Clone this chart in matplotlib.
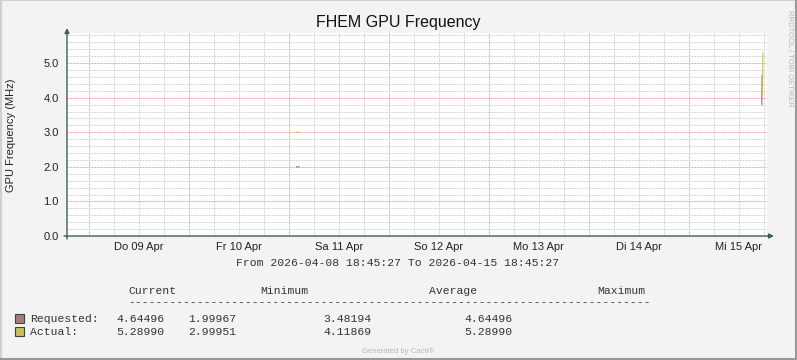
import matplotlib
matplotlib.use('Agg')
import matplotlib.pyplot as plt
from matplotlib.lines import Line2D
from matplotlib.patches import Rectangle
import numpy as np
import pandas as pd

plt.rcParams['font.family'] = ['Liberation Sans', 'DejaVu Sans']

# time window of the graph
start = pd.Timestamp("2026-04-08 18:45:27")
end = pd.Timestamp("2026-04-15 18:45:27")

# series (NaN = unknown / gap)
req_times = pd.to_datetime(["2026-04-11 01:50", "2026-04-11 02:25", "2026-04-12 00:00",
                            "2026-04-15 17:30", "2026-04-15 17:35"])
req_vals = [1.99967, 1.99967, np.nan, 3.80, 4.64496]

act_times = pd.to_datetime(["2026-04-11 01:50", "2026-04-11 02:25", "2026-04-12 00:00",
                            "2026-04-15 17:40", "2026-04-15 17:45"])
act_vals = [2.99951, 2.99951, np.nan, 4.09, 5.28990]

day_labels = ["Do 09 Apr", "Fr 10 Apr", "Sa 11 Apr", "So 12 Apr",
              "Mo 13 Apr", "Di 14 Apr", "Mi 15 Apr"]
y_ticks = [0.0, 1.0, 2.0, 3.0, 4.0, 5.0]

legend_names = ["Requested:", "Actual:"]
legend_current = ["4.64496", "5.28990"]
legend_min = ["1.99967", "2.99951"]
legend_avg = ["3.48194", "4.11869"]
legend_max = ["4.64496", "5.28990"]

req_color = "#B07878"
act_color = "#C8BE5A"
axis_color = "#3E5E54"

W, H = 797, 360
fig = plt.figure(figsize=(W / 100, H / 100), dpi=100, facecolor="#F3F3F3")


def fx(px):
    return px / W


def fy(py):
    return 1 - py / H


ax = fig.add_axes([fx(67), fy(236), fx(767) - fx(67), fy(33) - fy(236)])
ax.set_facecolor("white")
ax.set_xlim(start, end)
ax.set_ylim(0, 5.87)

# grid: gray every 6 h / 0.2, red every day / 1.0
dot = dict(linestyle=(0, (2, 1)), linewidth=0.72, snap=True, zorder=0.5)
grid_gray = "#D5D5D5"
grid_red = "#FFA0A0"
for t in pd.date_range("2026-04-08 18:00", "2026-04-15 18:00", freq="6h"):
    if t <= start:
        continue
    ax.axvline(t, color=grid_red if t.hour == 0 else grid_gray, **dot)
for k in range(1, 30):
    ax.axhline(k * 0.2, color=grid_red if k % 5 == 0 else grid_gray, **dot)

ax.set_yticks(y_ticks)
ax.set_yticklabels([f"{v:.1f}" for v in y_ticks])
ax.set_xticks([])
ax.tick_params(which="both", length=0)
ax.tick_params(axis="y", labelsize=8, colors="#222222", pad=6)
for s in ax.spines.values():
    s.set_visible(False)

# day labels at noon
for i, lab in enumerate(day_labels):
    t = pd.Timestamp("2026-04-09 12:00") + pd.Timedelta(days=i)
    ax.text(t, -0.052, lab, ha="center", va="center", fontsize=8,
            color="#222222", transform=ax.get_xaxis_transform())

ax.plot(req_times, req_vals, color=req_color, linewidth=0.9)
ax.plot(act_times, act_vals, color=act_color, linewidth=0.9, alpha=0.85)

# axes with arrows
ax.annotate("", xy=(fx(774), fy(236)), xytext=(fx(64), fy(236)),
            xycoords="figure fraction",
            arrowprops=dict(arrowstyle="-|>", color=axis_color, lw=1,
                            mutation_scale=7, shrinkA=0, shrinkB=0))
ax.annotate("", xy=(fx(67), fy(28)), xytext=(fx(67), fy(239)),
            xycoords="figure fraction",
            arrowprops=dict(arrowstyle="-|>", color=axis_color, lw=1,
                            mutation_scale=7, shrinkA=0, shrinkB=0))

fig.text(fx(398), fy(22), "FHEM GPU Frequency", ha="center", va="center",
         fontsize=11.5, color="#111111")
fig.text(fx(11), fy(135), "GPU Frequency (MHz)", rotation=90, ha="center",
         va="center", fontsize=8, color="#222222")
fig.text(fx(789), fy(58), "RRDTOOL / TOBI OETIKER", rotation=270, ha="center",
         va="center", fontsize=5.5, color="#B8B8B8")

mono = dict(family="Liberation Mono", fontsize=8.2, color="#333333", va="center")
fig.text(fx(398), fy(263), "From 2026-04-08 18:45:27 To 2026-04-15 18:45:27",
         ha="center", **mono)
for txt, px in [("Current", 128), ("Minimum", 260), ("Average", 429), ("Maximum", 597)]:
    fig.text(fx(px), fy(291), txt, ha="left", **mono)
fig.text(fx(128), fy(302), "-" * 76, ha="left", **mono)

for i, name in enumerate(legend_names):
    py = 319 + i * 13
    color = [req_color, act_color][i]
    fig.patches.append(Rectangle((fx(15), fy(py + 4)), fx(9), fy(0) - fy(9),
                                 transform=fig.transFigure, facecolor=color,
                                 edgecolor="#2F4A44", linewidth=0.8))
    fig.text(fx(30), fy(py), name, ha="left", **mono)
    fig.text(fx(116), fy(py), legend_current[i], ha="left", **mono)
    fig.text(fx(188), fy(py), legend_min[i], ha="left", **mono)
    fig.text(fx(323), fy(py), legend_avg[i], ha="left", **mono)
    fig.text(fx(464), fy(py), legend_max[i], ha="left", **mono)

fig.text(fx(398), fy(351), "Generated by Cacti®", ha="center", va="center",
         fontsize=5.5, color="#B8B8B8")

# frame around the image
fig.add_artist(Line2D([0, 1], [0.999, 0.999], color="#D0D0D0", lw=1.5))
fig.add_artist(Line2D([0.001, 0.001], [0, 1], color="#D0D0D0", lw=1.5))
fig.add_artist(Line2D([0, 1], [0.002, 0.002], color="#999999", lw=1.5))
fig.add_artist(Line2D([0.999, 0.999], [0, 1], color="#999999", lw=1.5))

fig.savefig("out.png", dpi=100, facecolor=fig.get_facecolor())
